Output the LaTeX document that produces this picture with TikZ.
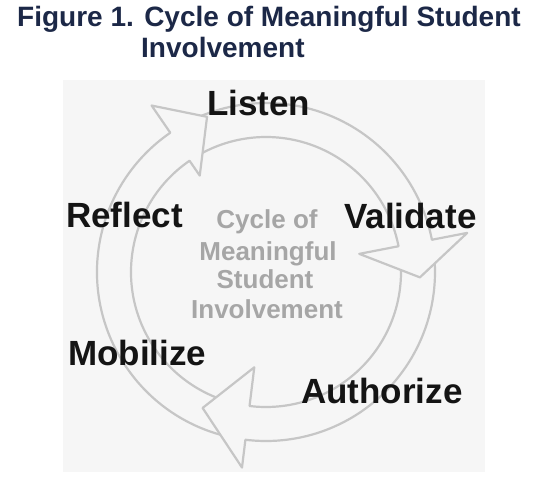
\documentclass[tikz,border=0pt]{standalone}
\usepackage{fontspec}
\setmainfont{Liberation Sans}
\usetikzlibrary{calc}
\definecolor{titlecol}{HTML}{1C2847}
\definecolor{panelbg}{HTML}{F6F6F6}
\definecolor{ringcol}{HTML}{C6C6C6}
\definecolor{centercol}{HTML}{A6A6A6}
\newcommand{\Rout}{169pt}
\newcommand{\Rin}{135pt}
\newcommand{\myband}[2]{%
  \path[bandstyle] ($(C)+(#1:\Rout)$) arc[start angle=#1,end angle=#2,radius=\Rout]
    -- ($(C)+(#2:\Rin)$) arc[start angle=#2,end angle=#1,radius=\Rin] -- cycle;}
% #1 base angle, #2 inner barb radius, #3 outer barb radius, #4 tip angle, #5 tip radius
\newcommand{\myhead}[5]{%
  \fill[panelbg] ($(C)+(#1:\Rout)$) -- ($(C)+(#1:#3pt)$) -- ($(C)+(#4:#5pt)$)
    -- ($(C)+(#1:#2pt)$) -- ($(C)+(#1:\Rin)$) -- cycle;
  \draw[ringline] ($(C)+(#1:\Rout)$) -- ($(C)+(#1:#3pt)$) -- ($(C)+(#4:#5pt)$)
    -- ($(C)+(#1:#2pt)$) -- ($(C)+(#1:\Rin)$);}
\tikzset{
  ringline/.style={draw=ringcol, line width=2.2pt, line join=round, line cap=round},
  bandstyle/.style={ringline, fill=panelbg},
  titletext/.style={inner sep=0pt, anchor=base west, text=titlecol, font=\fontsize{28}{31}\selectfont\bfseries},
  steplabel/.style={inner sep=0pt, anchor=base west, text=black!92, font=\fontsize{35}{40}\selectfont\bfseries},
  centertext/.style={inner sep=0pt, anchor=base, text=centercol, font=\fontsize{26}{30}\selectfont\bfseries}
}
\begin{document}
\begin{tikzpicture}[x=1pt,y=1pt]
\useasboundingbox (0,0) rectangle (551,480);
\fill[white] (0,0) rectangle (551,480);
\fill[panelbg] (63,8) rectangle (485,400);
\coordinate (C) at (266,208);
% bodies
\myband{256}{121.5}
\myband{121}{8}
\myband{5}{-100}
% heads
\myhead{124.5}{117}{202}{110.8}{166}
\myhead{11}{95}{205}{-2}{154}
\myhead{-97}{96}{197}{-115}{150}
% title
\node[titletext] (t1) at (17,453) {Figure 1. Cycle of Meaningful Student};
\node[titletext] (t2) at (141,422) {Involvement};
% step labels
\node[steplabel] (listen) at (207,364) {Listen};
\node[steplabel] (validate) at (344,252) {Validate};
\node[steplabel] (reflect) at (66,253) {Reflect};
\node[steplabel] (mobilize) at (68,115) {Mobilize};
\node[steplabel] (authorize) at (301,77) {Authorize};
% centre text
\node[centertext] (c1) at (267,252) {Cycle of};
\node[centertext] (c2) at (268,220) {Meaningful};
\node[centertext] (c3) at (265,192) {Student};
\node[centertext] (c4) at (267,162) {Involvement};
\end{tikzpicture}
\end{document}
